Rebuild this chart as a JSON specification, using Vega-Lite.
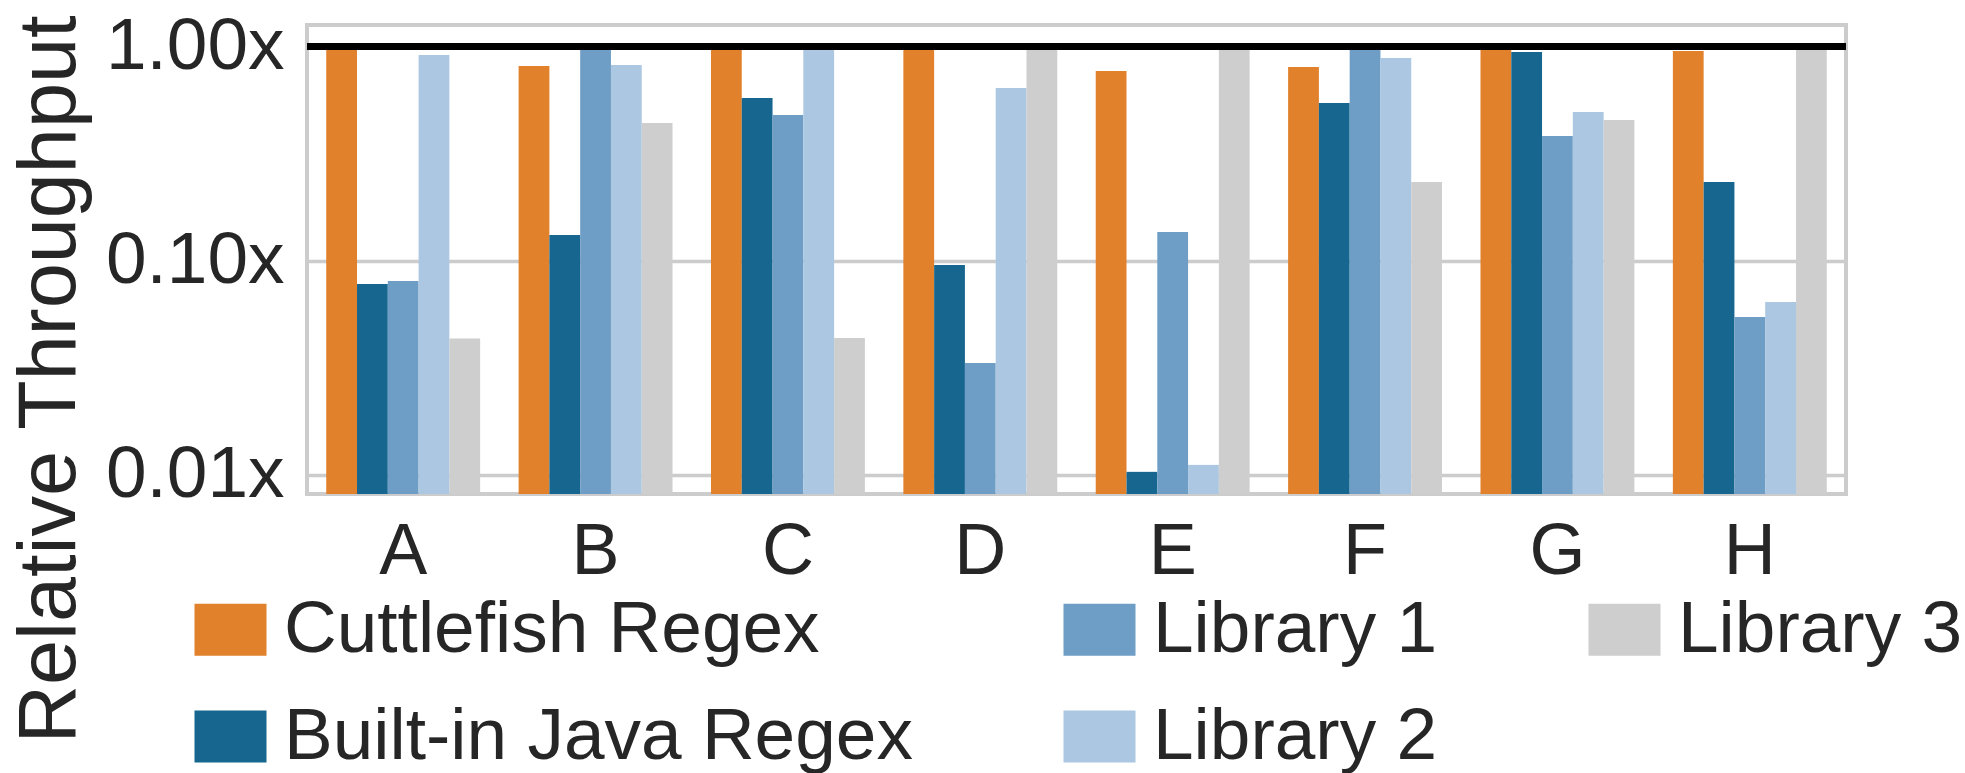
{
  "$schema": "https://vega.github.io/schema/vega-lite/v6.json",
  "autosize": {"type": "none"},
  "padding": {"left": 307, "top": 25, "right": 119, "bottom": 279},
  "width": 1539,
  "height": 469,
  "background": "white",
  "config": {
    "font": "Liberation Sans",
    "view": {"stroke": "#cccccc", "strokeWidth": 4},
    "axis": {"labelFont": "Liberation Sans", "titleFont": "Liberation Sans"},
    "legend": {"labelFont": "Liberation Sans"}
  },
  "data": {
    "values": [
      {"group": "A", "series": "Cuttlefish Regex", "value": 1.0},
      {"group": "A", "series": "Built-in Java Regex", "value": 0.0777},
      {"group": "A", "series": "Library 1", "value": 0.0803},
      {"group": "A", "series": "Library 2", "value": 0.913},
      {"group": "A", "series": "Library 3", "value": 0.0433},
      {"group": "B", "series": "Cuttlefish Regex", "value": 0.811},
      {"group": "B", "series": "Built-in Java Regex", "value": 0.1317},
      {"group": "B", "series": "Library 1", "value": 1.0},
      {"group": "B", "series": "Library 2", "value": 0.82},
      {"group": "B", "series": "Library 3", "value": 0.4395},
      {"group": "C", "series": "Cuttlefish Regex", "value": 1.0},
      {"group": "C", "series": "Built-in Java Regex", "value": 0.575},
      {"group": "C", "series": "Library 1", "value": 0.479},
      {"group": "C", "series": "Library 2", "value": 1.0},
      {"group": "C", "series": "Library 3", "value": 0.0435},
      {"group": "D", "series": "Cuttlefish Regex", "value": 1.0},
      {"group": "D", "series": "Built-in Java Regex", "value": 0.0954},
      {"group": "D", "series": "Library 1", "value": 0.0332},
      {"group": "D", "series": "Library 2", "value": 0.64},
      {"group": "D", "series": "Library 3", "value": 1.0},
      {"group": "E", "series": "Cuttlefish Regex", "value": 0.769},
      {"group": "E", "series": "Built-in Java Regex", "value": 0.0103},
      {"group": "E", "series": "Library 1", "value": 0.136},
      {"group": "E", "series": "Library 2", "value": 0.0111},
      {"group": "E", "series": "Library 3", "value": 1.0},
      {"group": "F", "series": "Cuttlefish Regex", "value": 0.803},
      {"group": "F", "series": "Built-in Java Regex", "value": 0.545},
      {"group": "F", "series": "Library 1", "value": 1.0},
      {"group": "F", "series": "Library 2", "value": 0.885},
      {"group": "F", "series": "Library 3", "value": 0.233},
      {"group": "G", "series": "Cuttlefish Regex", "value": 1.0},
      {"group": "G", "series": "Built-in Java Regex", "value": 0.944},
      {"group": "G", "series": "Library 1", "value": 0.382},
      {"group": "G", "series": "Library 2", "value": 0.495},
      {"group": "G", "series": "Library 3", "value": 0.454},
      {"group": "H", "series": "Cuttlefish Regex", "value": 0.954},
      {"group": "H", "series": "Built-in Java Regex", "value": 0.233},
      {"group": "H", "series": "Library 1", "value": 0.0545},
      {"group": "H", "series": "Library 2", "value": 0.064},
      {"group": "H", "series": "Library 3", "value": 1.0}
    ]
  },
  "layer": [
    {
      "mark": {"type": "bar", "strokeWidth": 0},
      "encoding": {
        "x": {
          "field": "group",
          "type": "nominal",
          "scale": {"paddingInner": 0.2, "paddingOuter": 0.1},
          "axis": {
            "title": null,
            "labelAngle": 0,
            "labelFontSize": 72,
            "labelColor": "#262626",
            "labelBaseline": "alphabetic",
            "labelPadding": 79,
            "ticks": false,
            "domain": false,
            "grid": false
          }
        },
        "xOffset": {
          "field": "series",
          "type": "nominal",
          "scale": {
            "domain": ["Cuttlefish Regex", "Built-in Java Regex", "Library 1", "Library 2", "Library 3"],
            "paddingInner": 0,
            "paddingOuter": 0
          }
        },
        "y": {
          "field": "value",
          "type": "quantitative",
          "scale": {"type": "log", "domain": [0.008115, 1.2617], "nice": false},
          "axis": {
            "values": [0.01, 0.1, 1],
            "labelExpr": "format(datum.value, '.2f') + 'x'",
            "labelFontSize": 73,
            "labelColor": "#262626",
            "labelPadding": 23,
            "labelBaseline": "middle",
            "ticks": false,
            "domain": false,
            "grid": true,
            "gridColor": "#cccccc",
            "gridWidth": 3.5,
            "title": "Relative Throughput",
            "titleFontSize": 81,
            "titleFontWeight": "normal",
            "titleColor": "#262626",
            "titleX": -233,
            "titleY": 354,
            "titleAngle": 270,
            "titleAlign": "center",
            "titleBaseline": "alphabetic"
          }
        },
        "y2": {"datum": 0.008115},
        "color": {
          "field": "series",
          "type": "nominal",
          "scale": {
            "domain": ["Cuttlefish Regex", "Built-in Java Regex", "Library 1", "Library 2", "Library 3"],
            "range": ["#e1812c", "#176690", "#6e9ec5", "#abc7e2", "#cecece"]
          },
          "legend": {
            "title": null,
            "orient": "none",
            "legendX": -113,
            "legendY": 568,
            "columns": 3,
            "columnPadding": 150,
            "rowPadding": 33,
            "padding": 0,
            "symbolType": "M-1,-0.72H1V0.72H-1Z",
            "symbolSize": 5184,
            "symbolStrokeWidth": 0,
            "symbolOpacity": 1,
            "labelFontSize": 73,
            "labelColor": "#262626",
            "labelOffset": 17,
            "labelLimit": 2000
          }
        }
      }
    },
    {
      "mark": {"type": "rule", "color": "black", "strokeWidth": 6},
      "encoding": {"y": {"datum": 1}}
    }
  ]
}
